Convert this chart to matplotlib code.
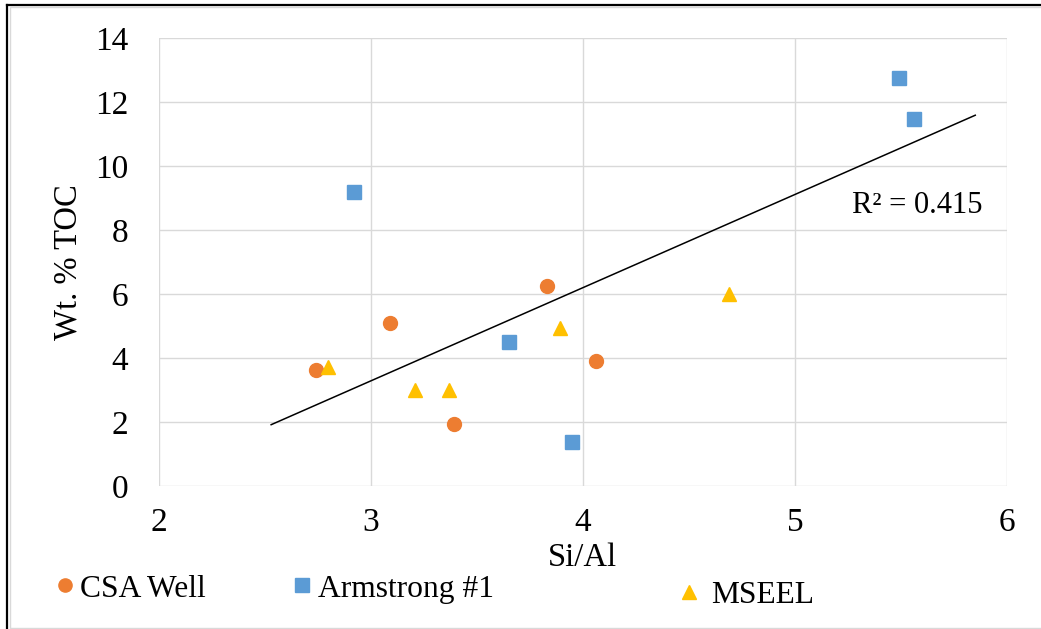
import numpy as np
import matplotlib
matplotlib.use("Agg")
import matplotlib.pyplot as plt
from matplotlib.lines import Line2D
from matplotlib.patches import Rectangle

plt.rcParams['font.family'] = ['Liberation Serif', 'DejaVu Serif']

# Si/Al ratio vs. TOC for the three wells
csa_x = [2.74, 3.09, 3.39, 3.83, 4.06]
csa_y = [3.62, 5.11, 1.94, 6.26, 3.91]

arm_x = [2.92, 3.65, 3.95, 5.49, 5.56]
arm_y = [9.20, 4.50, 1.39, 12.76, 11.48]

mseel_x = [2.80, 3.21, 3.37, 3.89, 4.69]
mseel_y = [3.73, 3.01, 3.01, 4.96, 6.01]

# linear trendline: slope, intercept and x extent
trend_coef = [2.913, -5.445]
trend_x = [2.53, 5.85]
r2_text = "R\u00b2 = 0.415"

orange = '#ED7D31'
blue = '#5B9BD5'
yellow = '#FFC000'
grid_c = '#D9D9D9'

fig = plt.figure(figsize=(10.41, 6.29), dpi=100)
ax = fig.add_axes([0.1525, 0.2269, 0.8149, 0.7122])

ax.set_xlim(2, 6)
ax.set_ylim(0, 14)
ax.set_xticks([2, 3, 4, 5, 6])
ax.set_yticks(range(0, 15, 2))
ax.grid(True, color=grid_c, linewidth=1.0)
ax.set_axisbelow(True)
for s in ax.spines.values():
    s.set_visible(False)
ax.tick_params(length=0, labelsize=24)
ax.tick_params(axis='x', pad=15)
ax.tick_params(axis='y', pad=22)

ax.plot(csa_x, csa_y, 'o', color=orange, markersize=10, zorder=3)
ax.plot(arm_x, arm_y, 's', color=blue, markersize=9.5, zorder=3)
ax.plot(mseel_x, mseel_y, '^', color=yellow, markersize=10.5, zorder=3)

tx = np.array(trend_x)
ax.plot(tx, np.polyval(trend_coef, tx), color='black', linewidth=1.1, zorder=2)
ax.text(5.577, 8.54, r2_text, ha='center', va='baseline', fontsize=22)

ax.set_xlabel("Si/Al", fontsize=23.5, va='center')
ax.xaxis.set_label_coords(0.5, -0.16)
ax.set_ylabel("Wt. % TOC", fontsize=23.5, va='center')
ax.yaxis.set_label_coords(-0.107, 0.5)

# legend entries along the bottom
entries = [
    ('o', orange, "CSA Well", 0.0546, 0.0636, 0.225),
    ('s', blue, "Armstrong #1", 0.2826, 0.0636, 0.245),
    ('^', yellow, "MSEEL", 0.6547, 0.054, 0.43),
]
for mk, col, lab, lx, ly, tp in entries:
    h = Line2D([], [], marker=mk, color=col, linestyle='none', markersize=9.5)
    fig.legend([h], [lab], loc='center left', bbox_to_anchor=(lx, ly),
               frameon=False, fontsize=22.7, handlelength=0.5,
               handletextpad=tp, borderpad=0, borderaxespad=0)

# chart border
W, H = 1041, 629
fig.add_artist(Rectangle((10 / W, 1 - 628 / H), 1.1, (628 - 7) / H,
                         transform=fig.transFigure, fill=False,
                         edgecolor='#D9D9D9', linewidth=1.0))
fig.add_artist(Line2D([7 / W, 1], [1 - 4.5 / H, 1 - 4.5 / H],
                      transform=fig.transFigure, color='black', linewidth=1.6))
fig.add_artist(Line2D([7 / W, 7 / W], [1 - 4.5 / H, 0],
                      transform=fig.transFigure, color='black', linewidth=1.6))

fig.savefig('out.png', dpi=100)
